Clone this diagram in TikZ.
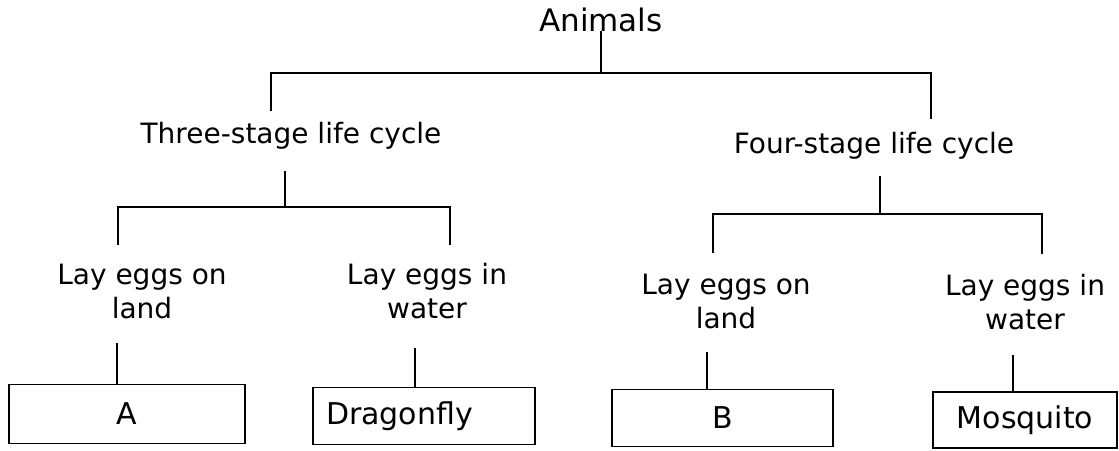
\documentclass[tikz,border=0pt]{standalone}
\usepackage{fontspec}
\setmainfont{DejaVu Sans}
\begin{document}
\begin{tikzpicture}[x=1pt,y=-1pt,
  conn/.style={line width=1.9pt, line cap=rect},
  lbl/.style={inner sep=0pt, align=center, font=\fontsize{28}{34}\selectfont},
  leaf/.style={draw, line width=1.9pt, inner sep=0pt, font=\fontsize{30}{34}\selectfont}]
\fill[white] (0,0) rectangle (1119,450);
\useasboundingbox (0,0) rectangle (1119,450);
% text nodes
\node[lbl, font=\fontsize{31}{36}\selectfont] (animals) at (601,20) {Animals};
\node[lbl] (three) at (291,136) {Three-stage life cycle};
\node[lbl] (four) at (874,146) {Four-stage life cycle};
\node[lbl] (l1) at (142,291) {Lay eggs on\\land};
\node[lbl] (w1) at (427,291) {Lay eggs in\\water};
\node[lbl] (l2) at (726,301) {Lay eggs on\\land};
\node[lbl] (w2) at (1025,302) {Lay eggs in\\water};
% leaf boxes
\node[leaf, minimum width=236pt, minimum height=59pt] (A) at (127,414) {A};
\node[leaf, minimum width=222pt, minimum height=57pt, text width=196pt, inner xsep=13pt, align=left] (D) at (424,416) {Dragonfly};
\node[leaf, minimum width=221pt, minimum height=57pt] (B) at (722.5,418) {B};
\node[leaf, minimum width=184pt, minimum height=56pt] (M) at (1025,420) {Mosquito};
% level 1
\coordinate (top) at (601,73);
\coordinate (d3) at (271,110);
\coordinate (d4) at (931,118);
\draw[conn] (animals.south) -- (top);
\draw[conn] (d3) |- (top) -| (d4);
% level 2 left
\coordinate (s3) at (285,172);
\coordinate (j3) at (285,207);
\coordinate (dl1) at (118,244);
\coordinate (dw1) at (450,244);
\draw[conn] (s3) -- (j3);
\draw[conn] (dl1) |- (j3) -| (dw1);
% level 2 right
\coordinate (s4) at (880,177);
\coordinate (j4) at (880,214);
\coordinate (dl2) at (713,252);
\coordinate (dw2) at (1042,253);
\draw[conn] (s4) -- (j4);
\draw[conn] (dl2) |- (j4) -| (dw2);
% leaves
\coordinate (ua) at (117,344);
\coordinate (ud) at (415,349);
\coordinate (ub) at (707,353);
\coordinate (um) at (1013,356);
\draw[conn] (ua) -- (ua |- A.north);
\draw[conn] (ud) -- (ud |- D.north);
\draw[conn] (ub) -- (ub |- B.north);
\draw[conn] (um) -- (um |- M.north);
\end{tikzpicture}
\end{document}
